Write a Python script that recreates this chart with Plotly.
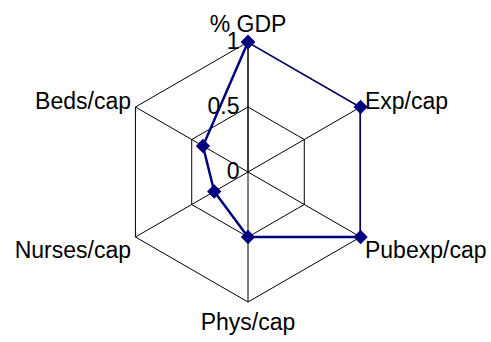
import plotly.graph_objects as go

categories = ["% GDP", "Exp/cap", "Pubexp/cap", "Phys/cap", "Nurses/cap", "Beds/cap"]
values = [1.0, 1.0, 1.0, 0.5, 0.3, 0.4]
tick_vals = [0, 0.5, 1]
tick_text = ["0", "0.5", "1"]

W, H = 491, 342
cx, cy, R = 248, 172, 130

fig = go.Figure()
fig.add_trace(go.Scatterpolar(
    r=values + values[:1],
    theta=categories + categories[:1],
    mode="lines+markers",
    line=dict(color="#000080", width=2.5),
    marker=dict(symbol="diamond", size=11, color="#000080"),
    showlegend=False,
    hoverinfo="skip",
    cliponaxis=False,
))

fig.update_layout(
    width=W, height=H,
    margin=dict(l=0, r=0, t=0, b=0),
    paper_bgcolor="white",
    plot_bgcolor="white",
    font=dict(family="Liberation Sans, Arial, sans-serif", size=23, color="black"),
    polar=dict(
        domain=dict(x=[(cx - R) / W, (cx + R) / W], y=[(H - cy - R) / H, (H - cy + R) / H]),
        bgcolor="white",
        gridshape="linear",
        radialaxis=dict(
            range=[0, 1], tickvals=tick_vals, ticktext=tick_text,
            angle=90, tickangle=90, side="counterclockwise",
            showline=True, linecolor="black", linewidth=1,
            gridcolor="black", gridwidth=1, ticks="",
            tickfont=dict(size=23, color="black"),
            layer="below traces",
        ),
        angularaxis=dict(
            direction="clockwise", rotation=90,
            showline=True, linecolor="black", linewidth=1,
            gridcolor="black", gridwidth=1, ticks="",
            tickfont=dict(size=23, color="black"),
            layer="below traces",
        ),
    ),
)

fig.write_html(
    "out.html",
    config={"displayModeBar": False},
    post_script="document.body.style.margin='0px';document.body.style.overflow='hidden';",
)
